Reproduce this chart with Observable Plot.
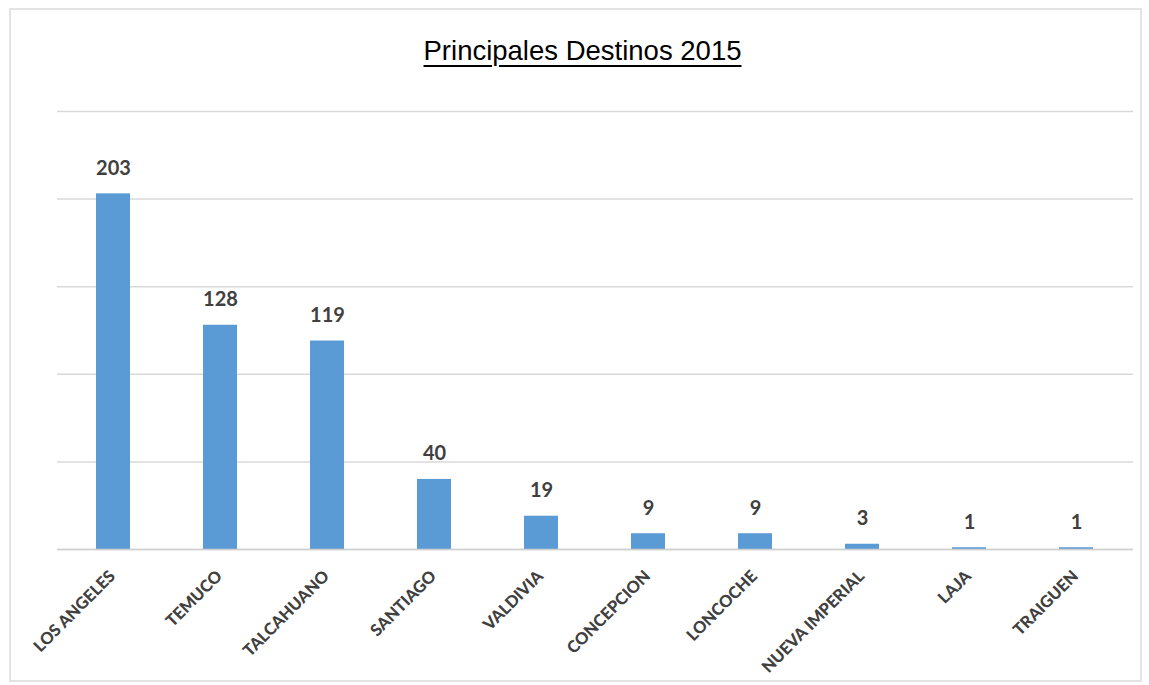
<!DOCTYPE html>
<html>
<head>
<meta charset="utf-8">
<script src="https://cdn.jsdelivr.net/npm/d3@7"></script>
<script src="https://cdn.jsdelivr.net/npm/@observablehq/plot@0.6"></script>
<style>
  html, body { margin: 0; padding: 0; background: #fff; }
  #wrap { position: relative; width: 1149px; height: 685px; overflow: hidden; }
  #border { position: absolute; left: 9px; top: 8px; width: 1129px; height: 670px; border: 2px solid #e3e3e3; pointer-events: none; }
  #title { height: 80px; box-sizing: border-box; padding-top: 35px; padding-left: 16px; text-align: center;
           font-family: "Liberation Sans", Arial, sans-serif; font-size: 27.5px; line-height: 32px; color: #000; }
  #title span { text-decoration: underline; text-decoration-thickness: 2px; text-underline-offset: 5px; }
</style>
</head>
<body>
<div id="wrap">
  <div id="title"><span>Principales Destinos 2015</span></div>
  <div id="chart"></div>
  <div id="border"></div>
</div>
<script>
const categories = ["LOS ANGELES","TEMUCO","TALCAHUANO","SANTIAGO","VALDIVIA","CONCEPCION","LONCOCHE","NUEVA IMPERIAL","LAJA","TRAIGUEN"];
const values = [203, 128, 119, 40, 19, 9, 9, 3, 1, 1];
const yTicks = [0, 50, 100, 150, 200, 250];

const data = categories.map((c, i) => ({cat: c, val: values[i]}));

const chart = Plot.plot({
  width: 1149,
  height: 605,
  marginTop: 31,
  marginBottom: 136,
  marginLeft: 57,
  marginRight: 16,
  style: {fontFamily: "Lato, 'Open Sans', sans-serif", background: "transparent"},
  x: {domain: categories, paddingInner: 0.68, paddingOuter: 0.34, label: null},
  y: {domain: [0, 250], axis: null},
  marks: [
    Plot.gridY(yTicks, {stroke: "#d9d9d9", strokeOpacity: 1, strokeWidth: 1.5}),
    Plot.barY(data, {x: "cat", y: "val", fill: "#5b9bd5"}),
    Plot.ruleY([0], {stroke: "#d0d0d0", strokeWidth: 1.5}),
    Plot.text(data, {x: "cat", y: "val", text: d => String(d.val), dy: -19, lineAnchor: "bottom",
      fontSize: 20, fontWeight: "bold", fill: "#404040"}),
    Plot.axisX({tickSize: 0, tickPadding: 24, dx: -1, tickRotate: -45, fontSize: 16.5, fontWeight: 900,
      fill: "#404040", label: null})
  ]
});
document.getElementById("chart").appendChild(chart);
</script>
</body>
</html>
